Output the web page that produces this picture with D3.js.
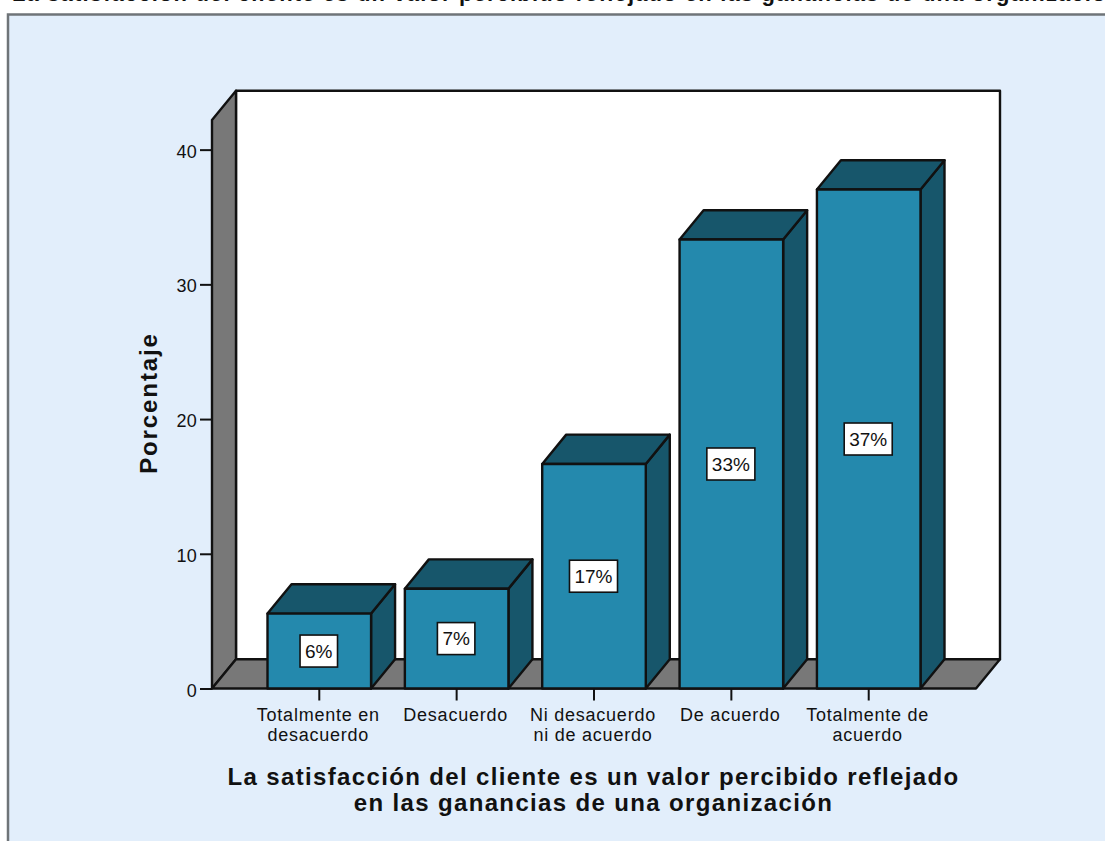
<!DOCTYPE html>
<html>
<head>
<meta charset="utf-8">
<script src="https://cdn.jsdelivr.net/npm/d3@7"></script>
<style>
  html, body { margin: 0; padding: 0; background: #fff; overflow: hidden; }
  text { font-family: "Liberation Sans", Arial, sans-serif; fill: #111; }
  .tick-label { font-size: 18px; letter-spacing: 0.75px; }
  .axis-title { font-size: 24px; font-weight: bold; letter-spacing: 1.35px; }
  .value-label { font-size: 19px; }
</style>
</head>
<body>
<div id="chart"></div>
<script>
const categories = [
  ["Totalmente en", "desacuerdo"],
  ["Desacuerdo"],
  ["Ni desacuerdo", "ni de acuerdo"],
  ["De acuerdo"],
  ["Totalmente de", "acuerdo"]
];
const percentages = [5.56, 7.41, 16.67, 33.33, 37.04];
const yTicks = [0, 10, 20, 30, 40];
const topTitle = "La satisfacción del cliente es un valor percibido reflejado en las ganancias de una organización";
const xTitle = ["La satisfacción del cliente es un valor percibido reflejado", "en las ganancias de una organización"];
const yTitle = "Porcentaje";

const width = 1105, height = 841;
const depthX = 24, depthY = 29.3;        // offset of the back wall
const left = 212, right = 976;           // front edge of the floor
const floorY = 688.5, topY = 120;

const svg = d3.select("#chart").append("svg")
  .attr("width", width)
  .attr("height", height);

const x = d3.scaleBand()
  .domain(d3.range(categories.length))
  .range([267.5, 920.5])
  .paddingInner(0.246)
  .paddingOuter(0);

const y = d3.scaleLinear()
  .domain([0, 42.2])
  .range([floorY, topY]);

const poly = (pts) => "M" + pts.map(p => p.join(",")).join("L") + "Z";

function addPath(pts, fill) {
  return svg.append("path")
    .attr("d", poly(pts))
    .attr("fill", fill)
    .attr("stroke", "#111")
    .attr("stroke-width", 2.4)
    .attr("stroke-linejoin", "round");
}

// title strip, cut by the top of the page
svg.append("text")
  .attr("class", "axis-title")
  .attr("x", 12)
  .attr("y", 1)
  .style("font-size", "22px")
  .style("letter-spacing", "1.15px")
  .text(topTitle);

// panel background
svg.append("rect")
  .attr("x", 8)
  .attr("y", 14.5)
  .attr("width", width + 20)
  .attr("height", height)
  .attr("fill", "#e2eefb")
  .attr("stroke", "#6f7478")
  .attr("stroke-width", 2.5);

// back wall, side wall and floor
addPath([[left + depthX, floorY - depthY], [left + depthX, topY - depthY], [right + depthX, topY - depthY], [right + depthX, floorY - depthY]], "#fff");
addPath([[left, floorY], [left, topY], [left + depthX, topY - depthY], [left + depthX, floorY - depthY]], "#787878");
addPath([[left, floorY], [left + depthX, floorY - depthY], [right + depthX, floorY - depthY], [right, floorY]], "#787878");

// y axis
const yAxis = svg.append("g")
  .attr("transform", `translate(${left},0)`)
  .call(d3.axisLeft(y).tickValues(yTicks).tickSize(12).tickPadding(3).tickFormat(d3.format("d")));
yAxis.select(".domain").remove();
yAxis.selectAll(".tick line").attr("stroke", "#111").attr("stroke-width", 2);
yAxis.selectAll(".tick text")
  .attr("class", "tick-label")
  .attr("fill", null)
  .attr("dy", "0.42em")
  .style("letter-spacing", "0.3px")
  .style("font-family", "'Liberation Sans', Arial, sans-serif");

// x axis ticks and wrapped category labels
const xAxis = svg.append("g")
  .attr("transform", `translate(0,${floorY})`)
  .call(d3.axisBottom(x).tickSize(12).tickFormat(""));
xAxis.select(".domain").remove();
xAxis.selectAll(".tick line").attr("stroke", "#111").attr("stroke-width", 2);

svg.append("g").selectAll("text")
  .data(categories)
  .join("text")
  .attr("class", "tick-label")
  .attr("text-anchor", "middle")
  .attr("y", floorY + 32)
  .selectAll("tspan")
  .data((d, i) => d.map(line => ({ line, i })))
  .join("tspan")
  .attr("x", d => x(d.i) + x.bandwidth() / 2 - 1)
  .attr("dy", (d, j) => j ? 20.5 : 0)
  .text(d => d.line);

// bars: right side and top first, then the front face
percentages.forEach((v, i) => {
  const x0 = x(i), x1 = x0 + x.bandwidth(), yv = y(v);
  addPath([[x1, floorY], [x1, yv], [x1 + depthX, yv - depthY], [x1 + depthX, floorY - depthY]], "#17566b");
  addPath([[x0, yv], [x0 + depthX, yv - depthY], [x1 + depthX, yv - depthY], [x1, yv]], "#17566b");
  addPath([[x0, floorY], [x0, yv], [x1, yv], [x1, floorY]], "#2489ad");
});

// percentage boxes, sized to their text
const boxH = 32;
const labels = svg.append("g").selectAll("g")
  .data(percentages)
  .join("g")
  .attr("transform", (d, i) => `translate(${x(i) + x.bandwidth() / 2 - 0.5},${(y(d) + floorY) / 2})`);
labels.append("rect")
  .attr("y", -boxH / 2)
  .attr("height", boxH)
  .attr("fill", "#fff")
  .attr("stroke", "#111")
  .attr("stroke-width", 1.6);
labels.append("text")
  .attr("class", "value-label")
  .attr("text-anchor", "middle")
  .attr("dy", "0.36em")
  .text(d => Math.round(d) + "%");
labels.each(function() {
  const g = d3.select(this);
  const w = g.select("text").node().getComputedTextLength() + 10;
  g.select("rect").attr("x", -w / 2).attr("width", w);
});

// axis titles
svg.append("g").selectAll("text")
  .data(xTitle)
  .join("text")
  .attr("class", "axis-title")
  .attr("text-anchor", "middle")
  .attr("x", 593.5)
  .attr("y", (d, i) => 785 + i * 26)
  .text(d => d);

svg.append("text")
  .attr("class", "axis-title")
  .attr("text-anchor", "middle")
  .style("letter-spacing", "1.9px")
  .attr("transform", "translate(157,403) rotate(-90)")
  .text(yTitle);
</script>
</body>
</html>
